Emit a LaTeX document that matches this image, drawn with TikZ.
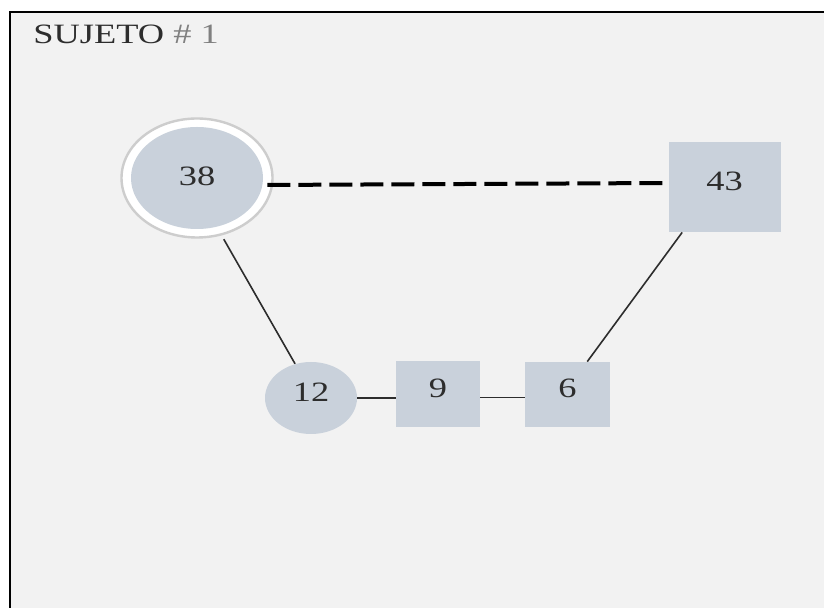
\documentclass[tikz,border=0pt]{standalone}
\usepackage{fontspec}
\setmainfont{Liberation Serif}
\usepackage{tikz}
\usetikzlibrary{shapes.geometric}
\definecolor{paper}{RGB}{242,242,242}
\definecolor{nodegray}{RGB}{201,209,219}
\definecolor{ringgray}{RGB}{205,205,205}
\definecolor{ink}{RGB}{45,45,45}
\newcommand{\wide}[1]{\scalebox{1.3}[1]{#1}}

\begin{document}
\begin{tikzpicture}[x=0.5pt,y=-0.5pt,
	num/.style={fill=nodegray,inner sep=0pt,text=ink,text depth=6pt,
		font=\fontsize{14pt}{16pt}\selectfont},
	oval/.style={num,ellipse},
	box/.style={num,rectangle},
	link/.style={draw=ink,line width=0.8pt}]
	\useasboundingbox (0,0) rectangle (824,608);
	\fill[white] (0,0) rectangle (824,608);
	\fill[paper] (10,12) rectangle (824,608);
	\draw[line width=1pt] (10,608) -- (10,12) -- (824,12);
	\node[anchor=base west,inner sep=0pt,font=\fontsize{14pt}{16pt}\selectfont,text=ink] (title) at (33,44) {\scalebox{1.3}[1]{SUJETO {\color{gray}\# 1}}};
	
	% nodos
	\draw[ringgray,line width=1.2pt,fill=white] (197,178) ellipse [x radius=75.5, y radius=59.5];
	\node[oval,minimum width=66pt,minimum height=51pt,text depth=2pt] (n38) at (197,178) {\wide{38}};
	\node[box,minimum width=56pt,minimum height=45pt] (n43) at (724.5,187) {\wide{43}};
	\node[oval,minimum width=46pt,minimum height=36pt] (n12) at (311,398) {\wide{12}};
	\node[box,minimum width=42pt,minimum height=33pt] (n9) at (438,394.5) {\wide{9}};
	\node[box,minimum width=42.5pt,minimum height=32.5pt] (n6) at (567.5,394.5) {\wide{6}};
	
	% aristas
	\draw[black,line width=2pt,dash pattern=on 11.5pt off 4pt,shorten <=2pt] ([yshift=-3.5pt]n38.east) -- ([yshift=2pt]n43.west);
	\draw[link,shorten <=7pt] (n38.-68) -- (n12.115);
	\draw[link] (n43.-133) -- (n6.59);
	\draw[link] (n12.east) -- ([yshift=-1.75pt]n9.west);
	\draw[link] ([yshift=-1.5pt]n9.east) -- ([yshift=-1.5pt]n6.west);
\end{tikzpicture}
\end{document}
